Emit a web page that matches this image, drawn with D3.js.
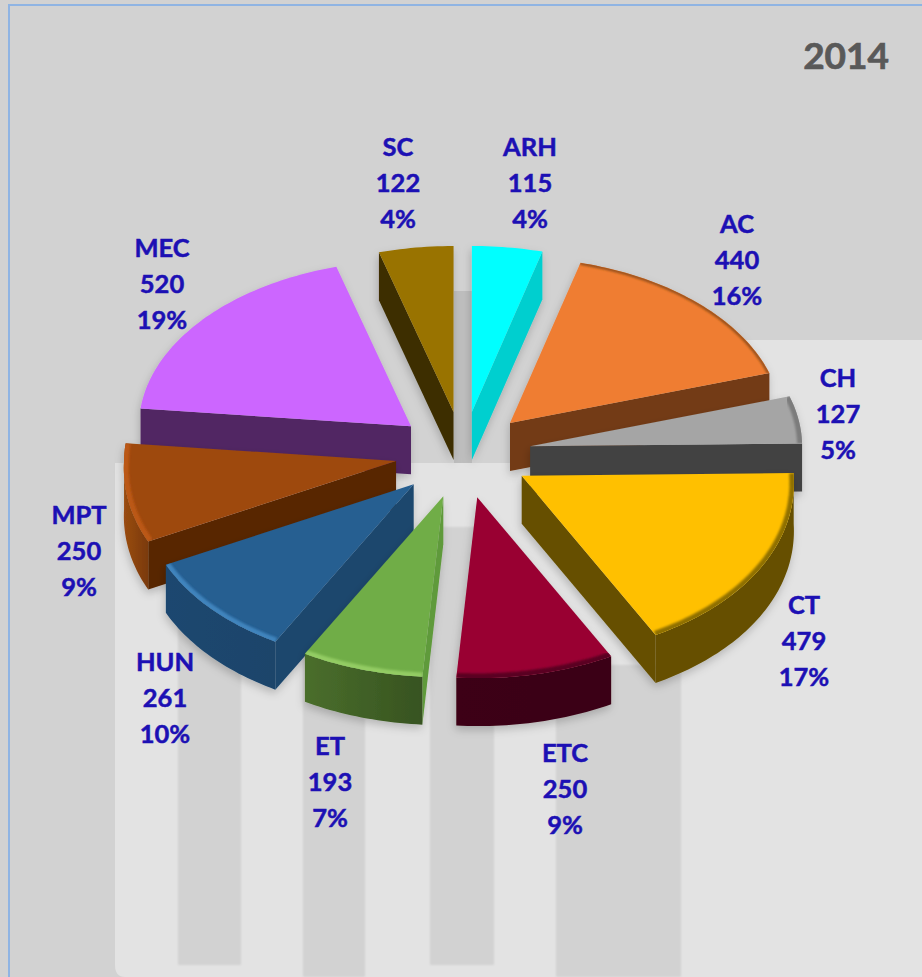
<!DOCTYPE html>
<html>
<head>
<meta charset="utf-8">
<script src="https://cdn.jsdelivr.net/npm/d3@7"></script>
<style>
    html, body { margin: 0; padding: 0; background: #d2d2d2; }
    svg { display: block; }
    .sliceLabel { font-family: Lato, sans-serif; font-weight: 700; font-size: 25.5px; fill: #1c10b4; stroke: #1c10b4; stroke-width: 0.5px; text-anchor: middle; }
    .chartTitle { font-family: Lato, sans-serif; font-weight: 700; font-size: 37px; fill: #595959; stroke: #595959; stroke-width: 0.7px; text-anchor: end; }
</style>
</head>
<body>
<svg></svg>
<script>
// data
var title = "2014";
var categories = ["ARH", "AC", "CH", "CT", "ETC", "ET", "HUN", "MPT", "MEC", "SC"];
var values = [115, 440, 127, 479, 250, 193, 261, 250, 520, 122];
// percent labels as printed (HUN says 10%, so not recomputed)
var percents = ["4%", "16%", "5%", "17%", "9%", "7%", "10%", "9%", "19%", "4%"];

// slice colours
var topColors = ["#00ffff", "#ef7d31", "#a5a5a5", "#ffc000", "#990033", "#70ad47", "#255e91", "#9e480e", "#cc66ff", "#997300"];
var edgeColors = ["#00cfcf", "#733a14", "#424242", "#665000", "#3c0014", "#5f9a3a", "#1a466d", "#582505", "#512863", "#3d2e00"];
var arcColorsA = ["#00cfcf", "#733a14", "#424242", "#665000", "#3c0014", "#4a6e2c", "#1b476f", "#9a4c12", "#512863", "#3d2e00"];
var arcColorsB = ["#00cfcf", "#733a14", "#424242", "#665000", "#3a0013", "#375320", "#1a446b", "#7a3a0c", "#512863", "#3d2e00"];
var rimColors = [null, "#94501f", "#7c7c7c", "#8f6f00", "#5a0020", "#93cc63", "#3f84bd", "#bb5812", null, null];
var rimWidths = [0, 3, 8, 7, 8, 7, 7, 8, 0, 0];

// data labels were moved by hand in the original: centre x, first baseline
var labelX = [530, 737, 838, 804, 565, 330, 165, 79, 162, 398];
var labelY = [156, 233, 387, 614, 762, 755, 671, 524, 257, 156];

///////////////////////////////////////////////////////
// Canvas and backdrop
var svgWidth = 922,
    svgHeight = 977;
var svg = d3.select("svg")
    .attr("width", svgWidth)
    .attr("height", svgHeight);

var defs = svg.append("defs");

var shadow = defs.append("filter")
    .attr("id", "shadow")
    .attr("x", "-20%").attr("y", "-20%")
    .attr("width", "140%").attr("height", "140%");
shadow.append("feDropShadow")
    .attr("dx", -1).attr("dy", 4)
    .attr("stdDeviation", 4)
    .attr("flood-color", "#000")
    .attr("flood-opacity", 0.2);

defs.append("filter").attr("id", "soft")
    .append("feGaussianBlur").attr("stdDeviation", 1.2);

var backdrop = svg.append("g");
backdrop.append("rect").attr("width", svgWidth).attr("height", svgHeight).attr("fill", "#d2d2d2");
backdrop.append("rect").attr("x", 454).attr("y", 291).attr("width", 18).attr("height", 172).attr("fill", "#bebebe");
backdrop.append("rect").attr("x", 700).attr("y", 340).attr("width", 222).attr("height", 140).attr("fill", "#e3e3e3");
backdrop.append("path")
    .attr("d", "M115,463H922V977H125Q115,977 115,965Z")
    .attr("fill", "#e3e3e3");

// the paler bars behind the pie
var barRects = [[178, 527, 63, 438], [303, 527, 62, 450], [430, 527, 64, 438], [556, 665, 125, 312]];
backdrop.selectAll(".bar")
    .data(barRects)
    .enter()
    .append("rect")
    .attr("x", d => d[0]).attr("y", d => d[1])
    .attr("width", d => d[2]).attr("height", d => d[3])
    .attr("fill", "#d2d2d2")
    .attr("filter", "url(#soft)");

backdrop.append("path")
    .attr("d", "M9,977V5H922")
    .attr("fill", "none")
    .attr("stroke", "#8fb4e3")
    .attr("stroke-width", 2);

///////////////////////////////////////////////////////
// Pie geometry: tilted disc, slices pulled out from the centre
var cx = 463,
    cy = 453,
    radius = 272,
    explode = 68,
    depth = 48;

// back half looks a little flatter than the front half
function squash(a) {
    return Math.cos(a) > 0 ? 0.61 : 0.665;
}

// front of the disc is closer to the viewer, so slightly wider
function widen(a) {
    return 1 + 0.04 * Math.max(0, -Math.cos(a));
}

function project(a, r) {
    return [r * Math.sin(a) * widen(a), -r * Math.cos(a) * squash(a)];
}

var pie = d3.pie().sort(null).value(d => d.value);
var rows = categories.map(function (c, i) {
    return { name: c, value: values[i], pct: percents[i], i: i };
});

var slices = pie(rows).map(function (d) {
    var mid = (d.startAngle + d.endAngle) / 2;
    var off = [explode * Math.sin(mid), -explode * Math.cos(mid) * squash(mid)];
    d.apex = [cx + off[0], cy + off[1]];
    return d;
});

var line = d3.line();

function arcPoints(d, a0, a1, r, dy) {
    var n = Math.max(2, Math.ceil((a1 - a0) / 0.02));
    return d3.range(n + 1).map(function (k) {
        var p = project(a0 + (a1 - a0) * k / n, r);
        return [d.apex[0] + p[0], d.apex[1] + p[1] + dy];
    });
}

// wall standing under one radial edge
function edgeWall(d, a) {
    var p = project(a, radius);
    var tip = [d.apex[0] + p[0], d.apex[1] + p[1]];
    return line([d.apex, tip, [tip[0], tip[1] + depth], [d.apex[0], d.apex[1] + depth]]) + "Z";
}

// only the walls facing the viewer get drawn
function visibleEdges(d) {
    var out = [];
    if (Math.sin(d.startAngle) < -1e-6) out.push(d.startAngle);
    if (Math.sin(d.endAngle) > 1e-6) out.push(d.endAngle);
    return out;
}

function arcWall(d) {
    var a0 = Math.max(d.startAngle, Math.PI / 2);
    var a1 = Math.min(d.endAngle, 3 * Math.PI / 2);
    if (a1 <= a0) return null;
    var upper = arcPoints(d, a0, a1, radius, 0);
    var lower = arcPoints(d, a0, a1, radius, depth).reverse();
    return line(upper.concat(lower)) + "Z";
}

function topFace(d) {
    return line([d.apex].concat(arcPoints(d, d.startAngle, d.endAngle, radius, 0))) + "Z";
}

///////////////////////////////////////////////////////
// Draw slices back to front
var drawOrder = slices.slice().sort((a, b) => a.apex[1] - b.apex[1]);

slices.forEach(function (d) {
    var grad = defs.append("linearGradient").attr("id", "arcFill" + d.data.i);
    grad.append("stop").attr("offset", "0%").attr("stop-color", arcColorsA[d.data.i]);
    grad.append("stop").attr("offset", "100%").attr("stop-color", arcColorsB[d.data.i]);
    defs.append("clipPath").attr("id", "topClip" + d.data.i)
        .append("path").attr("d", topFace(d));
});

var sliceG = svg.append("g")
    .selectAll("g")
    .data(drawOrder)
    .enter()
    .append("g")
    .attr("class", "slice")
    .attr("filter", "url(#shadow)");

sliceG.each(function (d) {
    var g = d3.select(this);
    var i = d.data.i;

    visibleEdges(d).forEach(function (a) {
        g.append("path").attr("d", edgeWall(d, a)).attr("fill", edgeColors[i]);
    });

    var wall = arcWall(d);
    if (wall) {
        g.append("path").attr("d", wall).attr("fill", "url(#arcFill" + i + ")");
    }

    g.append("path").attr("d", topFace(d)).attr("fill", topColors[i]);

    // bevel along the outer rim, kept inside the top face
    if (rimColors[i]) {
        g.append("g")
            .attr("clip-path", "url(#topClip" + i + ")")
            .append("path")
            .attr("d", line(arcPoints(d, d.startAngle, d.endAngle, radius - 1, 0)))
            .attr("fill", "none")
            .attr("stroke", rimColors[i])
            .attr("stroke-width", rimWidths[i])
            .attr("filter", "url(#soft)");
    }
});

///////////////////////////////////////////////////////
// Labels
var labels = svg.append("g")
    .selectAll("text")
    .data(rows)
    .enter()
    .append("text")
    .attr("class", "sliceLabel")
    .attr("y", d => labelY[d.i]);

[d => d.name, d => d.value, d => d.pct].forEach(function (fn, k) {
    labels.append("tspan")
        .attr("x", d => labelX[d.i])
        .attr("y", d => labelY[d.i] + k * 36)
        .text(fn);
});

svg.append("text")
    .attr("class", "chartTitle")
    .attr("x", 889)
    .attr("y", 69)
    .text(title);
</script>
</body>
</html>
